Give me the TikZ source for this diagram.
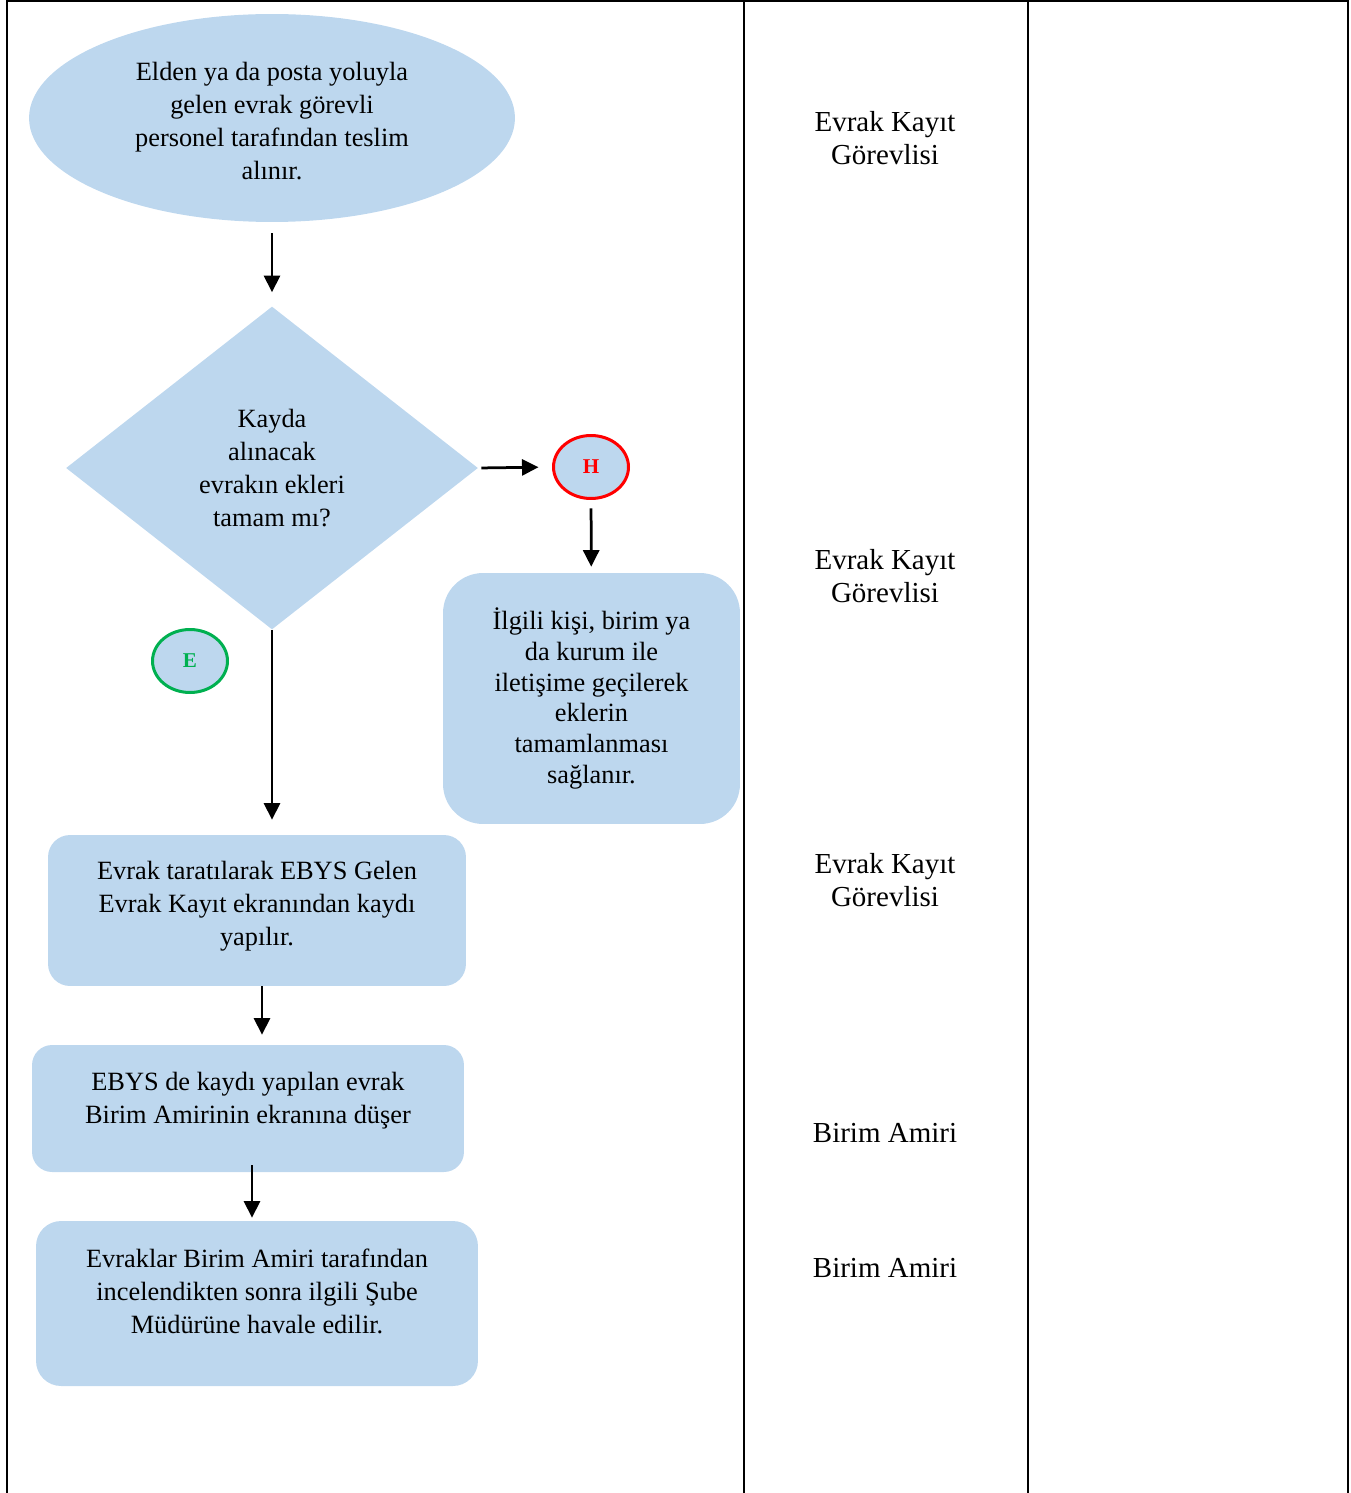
\documentclass[tikz,border=0pt]{standalone}
\usepackage{fontspec}
\setmainfont{Liberation Serif}
\usetikzlibrary{shapes.geometric,arrows.meta}
\definecolor{boxblue}{HTML}{BDD7EE}
\definecolor{hred}{HTML}{FF0000}
\definecolor{egreen}{HTML}{00B050}

\begin{document}
\begin{tikzpicture}[x=0.02cm,y=-0.02cm,
    every node/.style={align=center,inner sep=0pt,font=\fontsize{15}{18.7}\selectfont},
    flowbox/.style={fill=boxblue,rectangle},
    startend/.style={fill=boxblue,ellipse},
    decision/.style={fill=boxblue,diamond},
    mark circle/.style={fill=boxblue,ellipse,line width=0.06cm,minimum width=1.5cm,minimum height=1.26cm,font=\fontsize{12}{14}\selectfont\bfseries},
    role/.style={font=\fontsize{16.5}{18.7}\selectfont},
    grid/.style={line width=0.04cm},
    >={Triangle[length=0.33cm,width=0.32cm]}]
    \useasboundingbox (0,0) rectangle (1350,1493);
    % table
    \draw[grid] (7,1493) -- (7,1) -- (1348,1) -- (1348,1493);
    \draw[grid] (744,1) -- (744,1493);
    \draw[grid] (1028,1) -- (1028,1493);
    % flow
    \node[startend,minimum width=9.72cm,minimum height=4.16cm,label={[yshift=-0.06cm]center:{Elden ya da posta yoluyla\\gelen evrak görevli\\personel tarafından teslim\\alınır.}}] (start) at (272,118) {};
    \node[decision,minimum width=8.24cm,minimum height=6.46cm] (check) at (272,468) {Kayda\\alınacak\\evrakın ekleri\\tamam mı?};
    \node[mark circle,draw=hred,text=hred] (H) at (591,467) {H};
    \node[mark circle,draw=egreen,text=egreen] (E) at (190,661) {E};
    \node[flowbox,rounded corners=0.8cm,minimum width=5.94cm,minimum height=5.02cm,font=\fontsize{15}{17.5}\selectfont] (contact) at (591.5,698.5) {İlgili kişi, birim ya\\da kurum ile\\iletişime geçilerek\\eklerin\\tamamlanması\\sağlanır.};
    \node[flowbox,rounded corners=0.44cm,minimum width=8.36cm,minimum height=3.02cm,label={[yshift=0.08cm]center:{Evrak taratılarak EBYS Gelen\\Evrak Kayıt ekranından kaydı\\yapılır.}}] (scan) at (257,910.5) {};
    \node[flowbox,rounded corners=0.4cm,minimum width=8.64cm,minimum height=2.54cm,label={[yshift=0.16cm]center:{EBYS de kaydı yapılan evrak\\Birim Amirinin ekranına düşer}}] (ebys) at (248,1108.5) {};
    \node[flowbox,rounded corners=0.5cm,minimum width=8.84cm,minimum height=3.3cm,label={[yshift=0.24cm]center:{Evraklar Birim Amiri tarafından\\incelendikten sonra ilgili Şube\\Müdürüne havale edilir.}}] (refer) at (257,1303.5) {};
    % roles
    \node[role] (r1) at (885,138) {Evrak Kayıt\\Görevlisi};
    \node[role] (r2) at (885,576) {Evrak Kayıt\\Görevlisi};
    \node[role] (r3) at (885,880) {Evrak Kayıt\\Görevlisi};
    \node[role] (r4) at (885,1133) {Birim Amiri};
    \node[role] (r5) at (885,1268) {Birim Amiri};
    % arrows
    \path [->,line width=0.055cm] (start) edge[shorten <=0.22cm,shorten >=0.28cm] (check);
    \path [->,line width=0.055cm] (check.east) edge[shorten <=0.06cm,shorten >=0.27cm] (H.west);
    \path [->,line width=0.055cm] (H) edge[shorten <=0.17cm,shorten >=0.12cm] (contact);
    \path [->,line width=0.055cm] (check.south) edge[shorten >=0.3cm] (check.south |- scan.north);
    \path [->,line width=0.055cm] ([xshift=0.1cm]scan.south) edge[shorten >=0.2cm] ([xshift=0.1cm]scan.south |- ebys.north);
    \path [->,line width=0.055cm] ([xshift=0.08cm]ebys.south) edge[shorten <=-0.14cm,shorten >=0.06cm] ([xshift=0.08cm]ebys.south |- refer.north);
\end{tikzpicture}
\end{document}
